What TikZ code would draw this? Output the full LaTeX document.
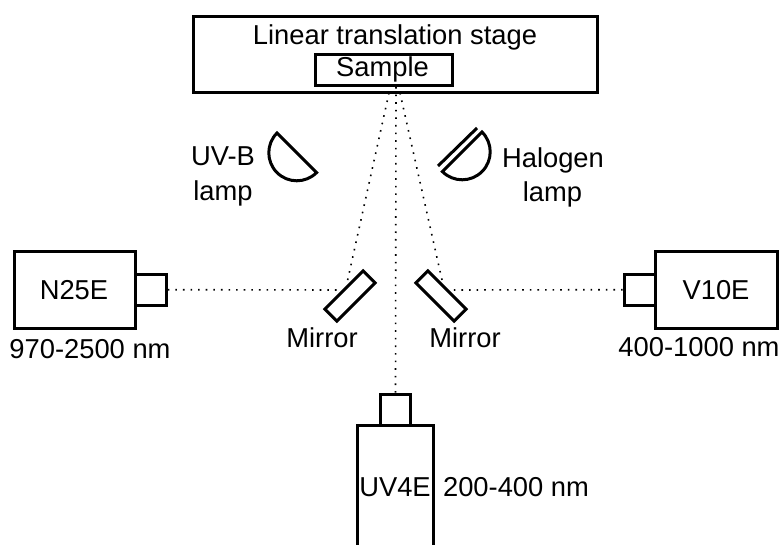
\documentclass[tikz,border=0pt]{standalone}
\usepackage{fontspec}
\setmainfont{Liberation Sans}
\tikzset{
 box/.style={draw,line width=2.25pt,fill=white,inner sep=0pt,minimum width=#1*0.75pt},
 boxh/.style={minimum height=#1*0.75pt},
 ray/.style={line width=1.2pt,dash pattern=on 1.2pt off 4.5pt,line cap=butt},
 lbl/.style={inner sep=0pt,anchor=base,font=\fontsize{20.5}{27}\selectfont},
 lamp/.style={draw,line width=2.25pt,fill=white}
}
\begin{document}
\begin{tikzpicture}[x=0.75pt,y=-0.75pt]
\useasboundingbox (0,0) rectangle (781,545);
\coordinate (top) at (396,87);
\coordinate (topL) at (389,93);
\coordinate (topR) at (400,93);
\coordinate (hitL) at (347,283);
\coordinate (hitR) at (442,280);
\coordinate (faceL) at (341,290);
\coordinate (faceR) at (449,290);
% stage
\node[box=403.5,boxh=76] (stage) at (395.7,54.5) {};
\node[box=137,boxh=31] (sample) at (383.5,70) {};
\node[lbl] (stagetxt) at (395,45) {Linear translation stage};
\node[lbl] (sampletxt) at (382.5,77) {Sample};
% mirrors
\node[box=54,boxh=17,rotate=45] (mirL) at (350,296) {};
\node[box=54,boxh=17,rotate=-45] (mirR) at (441,296) {};
% cameras
\node[box=30.5,boxh=31.7] (uvsmall) at (395.5,410) {};
\node[box=76,boxh=160] (uvbody) at (395.5,505.7) {};
\node[box=31,boxh=31] (n25s) at (150.7,289.7) {};
\node[box=120.5,boxh=76.5] (n25) at (75,290) {};
\node[box=31,boxh=31] (v10s) at (639.6,289.7) {};
\node[box=122,boxh=76.5] (v10) at (716,290) {};
\node[lbl] (uvtxt) at (395,496) {UV4E};
\node[lbl] (n25txt) at (74,299) {N25E};
\node[lbl] (v10txt) at (716,299) {V10E};
% rays
\draw[ray] (top) -- (uvsmall.north);
\draw[ray] (topL) -- (hitL);
\draw[ray] (topR) -- (hitR);
\draw[ray] (n25s.east) -- (faceL);
\draw[ray] (v10s.west) -- (faceR);
% lamps
\draw[lamp] (277,133) arc[start angle=225,end angle=45,radius=28] -- cycle;
\draw[lamp] (482,132) arc[start angle=315,end angle=495,radius=28] -- cycle;
\draw[line width=2.25pt] (477,128) -- (438,166);
\node[lbl] (uvb) at (223,166) {UV-B};
\node[lbl] (uvbl) at (223,201) {lamp};
\node[lbl] (hal) at (553,168) {Halogen};
\node[lbl] (hall) at (552.5,202) {lamp};
\node[lbl] (ml) at (322,347) {Mirror};
\node[lbl] (mr) at (465,347) {Mirror};
\node[lbl] (n25r) at (90,358) {970-2500 nm};
\node[lbl] (v10r) at (699,356) {400-1000 nm};
\node[lbl] (uvr) at (516,496) {200-400 nm};
\end{tikzpicture}
\end{document}
